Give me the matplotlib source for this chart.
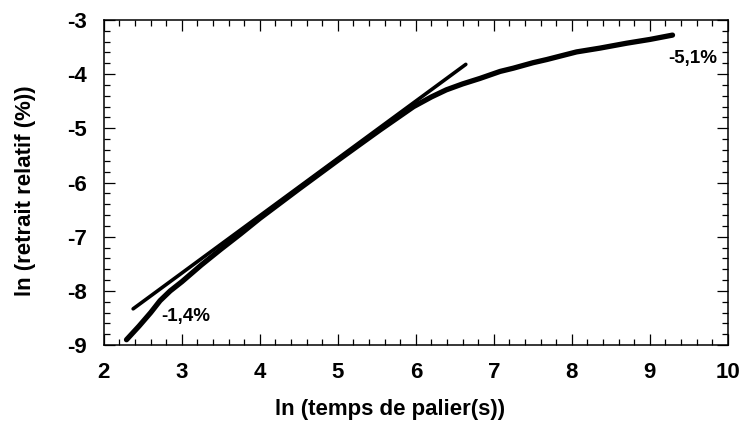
import matplotlib
matplotlib.use("Agg")
import matplotlib.pyplot as plt
from matplotlib.ticker import MultipleLocator

ln_t = [2.29, 2.45, 2.60, 2.72, 2.85, 3.00, 3.25, 3.50, 3.75, 4.00, 4.50,
        5.00, 5.25, 5.54, 5.75, 5.97, 6.20, 6.39, 6.60, 6.82, 7.08, 7.25,
        7.50, 7.68, 8.06, 8.36, 8.70, 9.00, 9.29]
ln_retrait = [-8.90, -8.65, -8.40, -8.18, -8.00, -7.83, -7.52, -7.23, -6.95,
              -6.66, -6.12, -5.59, -5.33, -5.03, -4.82, -4.60, -4.42, -4.29,
              -4.18, -4.08, -3.95, -3.89, -3.79, -3.73, -3.59, -3.52, -3.43,
              -3.36, -3.28]

# straight tangent line (end points)
tangent_x = [2.375, 6.64]
tangent_y = [-8.33, -3.82]

# annotations
labels = ["-1,4%", "-5,1%"]
label_x = [2.74, 9.23]
label_y = [-8.48, -3.72]

plt.rcParams['font.family'] = ['Liberation Sans', 'DejaVu Sans']
plt.rcParams['font.weight'] = 'bold'
plt.rcParams['axes.unicode_minus'] = False

fig = plt.figure(figsize=(7.42, 4.24), dpi=100)
ax = fig.add_axes([0.140, 0.186, 0.841, 0.767])

ax.plot(tangent_x, tangent_y, color='black', lw=2.6, solid_capstyle='round')
ax.plot(ln_t, ln_retrait, color='black', lw=3.8, solid_capstyle='round')

for txt, x, y in zip(labels, label_x, label_y):
    ax.text(x, y, txt, fontsize=13.5, fontweight='bold', va='center', ha='left')

ax.set_xlim(2, 10)
ax.set_ylim(-9, -3)
ax.xaxis.set_major_locator(MultipleLocator(1))
ax.xaxis.set_minor_locator(MultipleLocator(0.2))
ax.yaxis.set_major_locator(MultipleLocator(1))
ax.yaxis.set_minor_locator(MultipleLocator(0.2))

ax.tick_params(which='both', direction='in', top=True, right=True, width=0.9)
ax.tick_params(which='major', length=8)
ax.tick_params(which='minor', length=4)
ax.tick_params(axis='x', pad=12, labelsize=16)
ax.tick_params(axis='y', pad=12, labelsize=16)
for lab in ax.get_xticklabels() + ax.get_yticklabels():
    lab.set_fontweight('bold')
for sp in ax.spines.values():
    sp.set_linewidth(1.1)

ax.set_xlabel('ln (temps de palier(s))', fontsize=16, fontweight='bold')
ax.set_ylabel('ln (retrait relatif (%))', fontsize=16, fontweight='bold')
ax.xaxis.set_label_coords(0.458, -0.165)
ax.yaxis.set_label_coords(-0.108, 0.474)

fig.savefig('out.png', dpi=100)
